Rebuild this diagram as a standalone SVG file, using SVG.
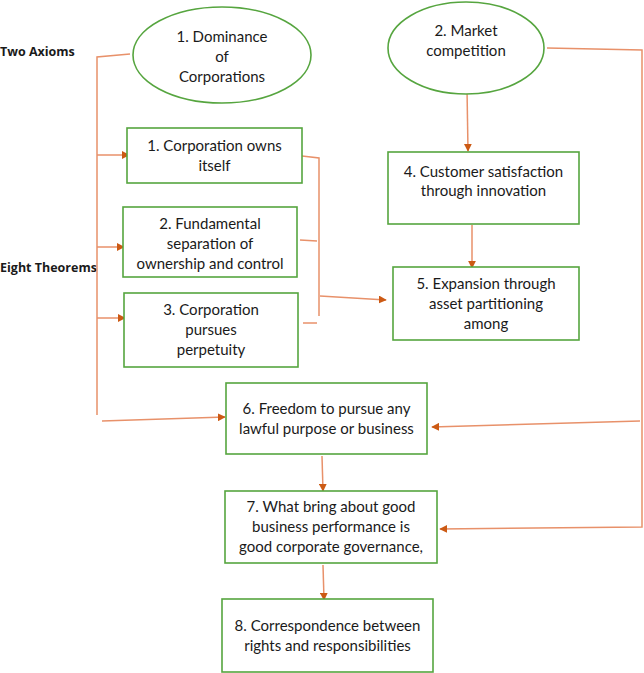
<svg xmlns="http://www.w3.org/2000/svg" width="644" height="673" viewBox="0 0 644 673">
<defs>
<style>
.n{fill:#fff;stroke:#56a53f;stroke-width:1.6}
.t{font-family:Lato,"Open Sans","Liberation Sans",sans-serif;font-size:15px;fill:#1a1a1a;text-anchor:middle}
.h{font-family:"Open Sans","Liberation Sans",sans-serif;font-size:12.5px;font-weight:bold;fill:#1a1a1a}
.c{fill:none;stroke:#e8916a;stroke-width:1.5}
.a{marker-end:url(#ah)}
</style>
<marker id="ah" viewBox="0 0 10 10" refX="9" refY="5" markerWidth="8" markerHeight="8" markerUnits="userSpaceOnUse" orient="auto">
<path d="M0,0 L10,5 L0,10 z" fill="#cc5a14"/>
</marker>
</defs>
<rect width="644" height="673" fill="#fff"/>
<text class="h" x="0" y="56">Two Axioms</text>
<text class="h" x="0" y="272">Eight Theorems</text>
<g id="connectors">
<polyline class="c" points="130,54 97,57 97,415"/>
<line class="c a" x1="97" y1="155" x2="129" y2="155"/>
<line class="c a" x1="97" y1="247" x2="124" y2="247"/>
<line class="c a" x1="97" y1="318" x2="125" y2="318"/>
<line class="c a" x1="102" y1="421" x2="225" y2="417"/>
<polyline class="c" points="302,156 319,158 319,316"/>
<line class="c" x1="300" y1="240" x2="317" y2="241"/>
<line class="c" x1="303" y1="323" x2="317" y2="323"/>
<line class="c a" x1="320" y1="296" x2="386" y2="300"/>
<line class="c a" x1="467" y1="89" x2="468" y2="151"/>
<line class="c a" x1="472" y1="225" x2="472" y2="268"/>
<polyline class="c a" points="547,48 642,50 642,527 440,529"/>
<line class="c a" x1="640" y1="421" x2="432" y2="427"/>
<line class="c a" x1="322" y1="456" x2="323" y2="491"/>
<line class="c a" x1="323" y1="565" x2="324" y2="600"/>
</g>
<g id="axiom1"><ellipse class="n" cx="222" cy="55" rx="89" ry="48"/>
<text class="t" x="222" y="42">1. Dominance</text><text class="t" x="222" y="62">of</text><text class="t" x="222" y="82">Corporations</text></g>
<g id="axiom2"><ellipse class="n" cx="466" cy="48" rx="78" ry="46"/>
<text class="t" x="466" y="36">2. Market</text><text class="t" x="466" y="56">competition</text></g>
<g id="t1"><rect class="n" x="127" y="128" width="175" height="55"/>
<text class="t" x="214.5" y="151">1. Corporation owns</text><text class="t" x="214.5" y="171">itself</text></g>
<g id="t2"><rect class="n" x="123" y="207" width="174" height="70"/>
<text class="t" x="210" y="229">2. Fundamental</text><text class="t" x="210" y="249">separation of</text><text class="t" x="210" y="269">ownership and control</text></g>
<g id="t3"><rect class="n" x="124" y="293" width="174" height="74"/>
<text class="t" x="211" y="315">3. Corporation</text><text class="t" x="211" y="335">pursues</text><text class="t" x="211" y="355">perpetuity</text></g>
<g id="t4"><rect class="n" x="388" y="152" width="191" height="72"/>
<text class="t" x="483.5" y="177">4. Customer satisfaction</text><text class="t" x="483.5" y="196">through innovation</text></g>
<g id="t5"><rect class="n" x="393" y="267" width="186" height="73"/>
<text class="t" x="486" y="289">5. Expansion through</text><text class="t" x="486" y="309">asset partitioning</text><text class="t" x="486" y="329">among</text></g>
<g id="t6"><rect class="n" x="226" y="383" width="201" height="71"/>
<text class="t" x="326.5" y="414">6. Freedom to pursue any</text><text class="t" x="326.5" y="434">lawful purpose or business</text></g>
<g id="t7"><rect class="n" x="225" y="491" width="212" height="72"/>
<text class="t" x="331" y="512">7. What bring about good</text><text class="t" x="331" y="532">business performance is</text><text class="t" x="331" y="552">good corporate governance,</text></g>
<g id="t8"><rect class="n" x="222" y="599" width="211" height="73"/>
<text class="t" x="327.5" y="631">8. Correspondence between</text><text class="t" x="327.5" y="651">rights and responsibilities</text></g>
</svg>
